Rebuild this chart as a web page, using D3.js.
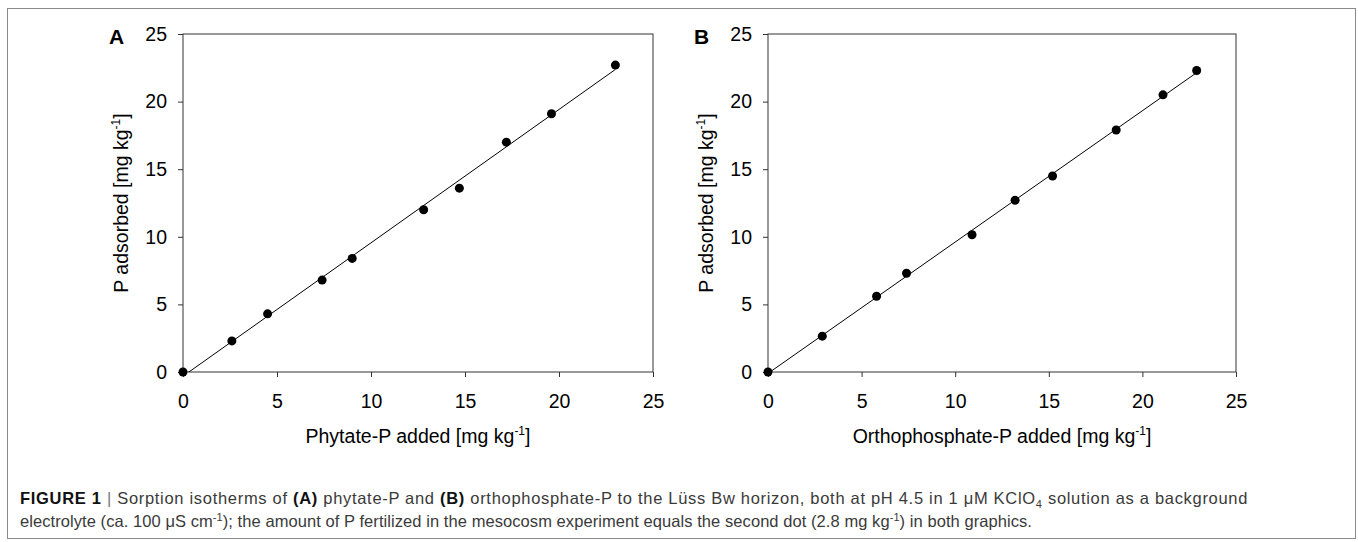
<!DOCTYPE html>
<html><head><meta charset="utf-8">
<script src="https://cdn.jsdelivr.net/npm/d3@7"></script>
<style>
body{margin:0;background:#fff}
text{font-family:"Liberation Sans",Arial,Helvetica,sans-serif}
</style>
</head><body>
<svg id="chart" width="1358" height="542"></svg>
<script>
// ---- data ----
const xTicks = [0, 5, 10, 15, 20, 25];
const yTicks = [0, 5, 10, 15, 20, 25];
const phytateAdded    = [0, 2.6, 4.5, 7.4, 9.0, 12.8, 14.7, 17.2, 19.6, 23.0];
const phytateAdsorbed = [0, 2.3, 4.3, 6.8, 8.4, 12.0, 13.6, 17.0, 19.1, 22.7];
const orthoAdded      = [0, 2.9, 5.8, 7.4, 10.9, 13.2, 15.2, 18.6, 21.1, 22.9];
const orthoAdsorbed   = [0, 2.65, 5.6, 7.3, 10.15, 12.7, 14.5, 17.9, 20.5, 22.3];
const panelLetters = ["A", "B"];
const xTitles = ["Phytate-P added [mg kg", "Orthophosphate-P added [mg kg"];
const yTitle = "P adsorbed [mg kg";

const svg = d3.select("#chart");

// outer frame
svg.append("rect").attr("x", 7.5).attr("y", 8.5).attr("width", 1348).attr("height", 530)
  .attr("fill", "none").attr("stroke", "#8a8a8a").attr("stroke-width", 1);

const panels = [
  {letter: panelLetters[0], xs: phytateAdded, ys: phytateAdsorbed, xt: xTitles[0], left: 183, right: 653, titleX: 121},
  {letter: panelLetters[1], xs: orthoAdded, ys: orthoAdsorbed, xt: xTitles[1], left: 768, right: 1236, titleX: 706}
];
const plotTop = 34, plotBottom = 372;
const fs = 19.5;

panels.forEach((p, i) => {
  const x = d3.scaleLinear().domain([0, 25]).range([p.left, p.right]);
  const y = d3.scaleLinear().domain([0, 25]).range([plotBottom, plotTop]);
  const g = svg.append("g");

  const clipId = "clip" + i;
  svg.append("clipPath").attr("id", clipId).append("rect")
    .attr("x", p.left).attr("y", plotTop).attr("width", p.right - p.left).attr("height", plotBottom - plotTop);

  // axes
  const xa = g.append("g").attr("transform", `translate(0,${plotBottom})`)
    .call(d3.axisBottom(x).tickValues(xTicks).tickSize(5).tickSizeOuter(0).tickPadding(17).tickFormat(d3.format("d")));
  const ya = g.append("g").attr("transform", `translate(${p.left},0)`)
    .call(d3.axisLeft(y).tickValues(yTicks).tickSize(5).tickSizeOuter(0).tickPadding(11).tickFormat(d3.format("d")));
  [xa, ya].forEach(a => {
    a.select(".domain").remove();
    a.selectAll("line").attr("stroke", "#333");
    a.selectAll("text").attr("font-size", fs + "px").attr("fill", "#000")
      .style("font-family", '"Liberation Sans",Arial,sans-serif');
  });

  // frame
  g.append("rect").attr("x", p.left).attr("y", plotTop).attr("width", p.right - p.left).attr("height", plotBottom - plotTop)
    .attr("fill", "none").attr("stroke", "#333").attr("stroke-width", 1);

  // regression line (least squares of the points)
  const mx = d3.mean(p.xs), my = d3.mean(p.ys);
  const sxy = d3.sum(p.xs, (v, k) => (v - mx) * (p.ys[k] - my));
  const sxx = d3.sum(p.xs, v => (v - mx) * (v - mx));
  const b = sxy / sxx, a0 = my - b * mx;
  const x0 = d3.min(p.xs), x1 = d3.max(p.xs);
  g.append("line").attr("clip-path", `url(#${clipId})`)
    .attr("x1", x(x0)).attr("y1", y(a0 + b * x0))
    .attr("x2", x(x1)).attr("y2", y(a0 + b * x1))
    .attr("stroke", "#000").attr("stroke-width", 1);

  // points
  g.selectAll("circle.pt").data(p.xs.map((v, k) => [v, p.ys[k]])).join("circle")
    .attr("class", "pt").attr("cx", d => x(d[0])).attr("cy", d => y(d[1])).attr("r", 4.5).attr("fill", "#000");

  // panel letter
  g.append("text").attr("x", p.left - 74).attr("y", 44).attr("font-size", "21px").attr("font-weight", "bold")
    .text(p.letter);

  // x title
  const xt = g.append("text").attr("x", (p.left + p.right) / 2).attr("y", 443).attr("text-anchor", "middle")
    .attr("font-size", fs + "px");
  xt.append("tspan").text(p.xt);
  xt.append("tspan").attr("dy", -8).attr("font-size", "12px").text("-1");
  xt.append("tspan").attr("dy", 8).text("]");

  // y title
  const yt = g.append("text").attr("transform", `translate(${p.titleX + 7},${(plotTop + plotBottom) / 2}) rotate(-90)`)
    .attr("text-anchor", "middle").attr("font-size", fs + "px");
  yt.append("tspan").text(yTitle);
  yt.append("tspan").attr("dy", -8).attr("font-size", "12px").text("-1");
  yt.append("tspan").attr("dy", 8).text("]");
});

// caption
const cap = svg.append("g").attr("fill", "#3a3a3a").attr("font-size", "16.5px");
const l1 = cap.append("text").attr("x", 20).attr("y", 504);
l1.append("tspan").attr("font-weight", "bold").attr("fill", "#111").text("FIGURE 1 ");
l1.append("tspan").attr("fill", "#777").text("| ");
l1.append("tspan").text("Sorption isotherms of ");
l1.append("tspan").attr("font-weight", "bold").attr("fill", "#111").text("(A)");
l1.append("tspan").text(" phytate-P and ");
l1.append("tspan").attr("font-weight", "bold").attr("fill", "#111").text("(B)");
l1.append("tspan").text(" orthophosphate-P to the Lüss Bw horizon, both at pH 4.5 in 1 μM KClO");
l1.append("tspan").attr("dy", 4).attr("font-size", "11px").text("4");
l1.append("tspan").attr("dy", -4).text(" solution as a background");
const l2 = cap.append("text").attr("x", 20).attr("y", 527);
l2.append("tspan").text("electrolyte (ca. 100 μS cm");
l2.append("tspan").attr("dy", -6).attr("font-size", "11px").text("-1");
l2.append("tspan").attr("dy", 6).text("); the amount of P fertilized in the mesocosm experiment equals the second dot (2.8 mg kg");
l2.append("tspan").attr("dy", -6).attr("font-size", "11px").text("-1");
l2.append("tspan").attr("dy", 6).text(") in both graphics.");

// fit caption lines to the reference line widths
[[l1, 1228], [l2, 1012]].forEach(([t, w]) => {
  const node = t.node();
  const len = node.getComputedTextLength();
  const n = node.textContent.length;
  const ls = Math.max(0, (w - len) / n);
  t.attr("letter-spacing", ls.toFixed(3) + "px");
});
</script>
</body></html>
